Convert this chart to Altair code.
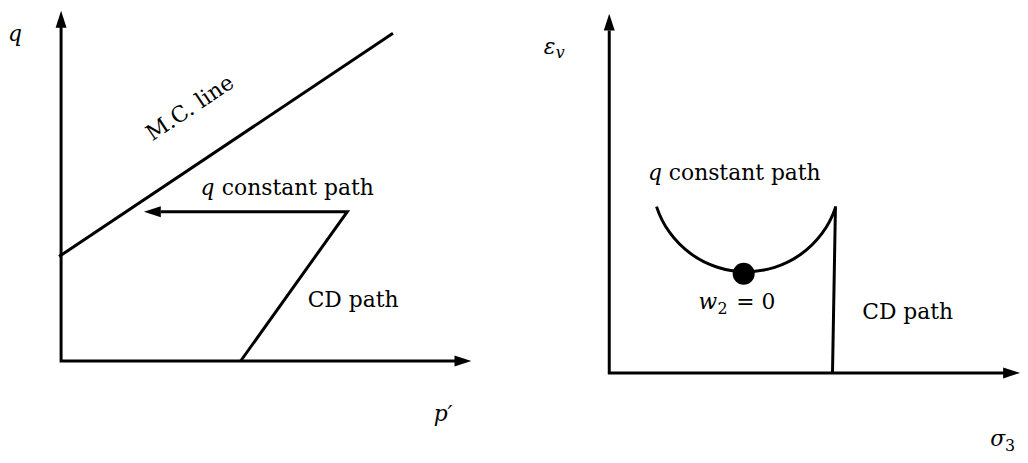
import altair as alt
import pandas as pd
import math

FONT = "DejaVu Serif"
FS = 22
SUB = 16
LW = 3

# ---------------- Left panel: q  vs  p' (local diagram units) ----------------
L_axes_x = [0, 0, 405]
L_axes_y = [345, 0, 0]
L_mc_x = [-2, 334.5]
L_mc_y = [105.3, 330.3]
L_path_x = [181, 288.5, 100.5]       # CD path then q-constant path
L_path_y = [0, 150.5, 150.5]
L_arrow_x = [0, 405, 92]
L_arrow_y = [344.5, 0, 150.5]
L_arrow_dir = ["up", "right", "left"]
L_roman = [("constant path", 162, 167), ("CD path", 248.5, 54)]
L_italic = [("q", 140.5, 167), ("q", -53.5, 323), ("p\u2032", 375.5, -60)]
L_mc_label = ("M.C. line", 130, 255)

# ---------------- Right panel: eps_v vs sigma_3 ----------------
R_axes_x = [0, 0, 405]
R_axes_y = [345, 0, 0]
# q-constant arc (circle): centre, radius, end angles (deg, clockwise from 12 o'clock)
R_arc_cx = [138]
R_arc_cy = [197]
R_arc_r = 95
R_arc_deg = [108.7, 252.0]
R_cd_x = [225, 228]
R_cd_y = [0, 168]
R_dot_x = [135.5]
R_dot_y = [100]
R_arrow_x = [0, 405.5]
R_arrow_y = [353.5, 0]
R_arrow_dir = ["up", "right"]
R_roman = [("constant path", 60, 194), ("CD path", 255, 54), ("= 0", 128, 64)]
R_italic = [("q", 39, 194), ("w", 90, 64), ("\u03b5", -66, 321), ("\u03c3", 384, -74)]
R_sub_roman = [("2", 109, 59), ("3", 399, -79)]
R_sub_italic = [("v", -54, 317)]

SHAPES = {
    "up": "M0,-1L0.65,1L-0.65,1Z",
    "right": "M1,0L-1,-0.65L-1,0.65Z",
    "left": "M-1,0L1,-0.65L1,0.65Z",
}

W, H = 510, 455


def enc(xd, yd):
    return dict(
        x=alt.X("x:Q", scale=alt.Scale(domain=xd, nice=False, zero=False), axis=None),
        y=alt.Y("y:Q", scale=alt.Scale(domain=yd, nice=False, zero=False), axis=None),
    )


def poly(xs, ys, xd, yd, **mk):
    df = pd.DataFrame({"x": xs, "y": ys, "i": list(range(len(xs)))})
    return alt.Chart(df).mark_line(color="black", strokeWidth=LW, strokeJoin="miter",
                                   strokeCap="butt", **mk).encode(
        order="i:Q", **enc(xd, yd))


def arrows(xs, ys, dirs, xd, yd):
    df = pd.DataFrame({"x": xs, "y": ys, "shape": [SHAPES[d] for d in dirs]})
    return alt.Chart(df).mark_point(filled=True, size=289, opacity=1, color="black",
                                    strokeWidth=0).encode(
        shape=alt.Shape("shape:N", scale=None), **enc(xd, yd))


def texts(items, xd, yd, size=FS, italic=False, **mk):
    df = pd.DataFrame({"t": [a[0] for a in items], "x": [a[1] for a in items],
                       "y": [a[2] for a in items]})
    kw = dict(font=FONT, fontSize=size, color="black", align="left", baseline="alphabetic")
    if italic:
        kw["fontStyle"] = "italic"
    kw.update(mk)
    return alt.Chart(df).mark_text(**kw).encode(text="t:N", **enc(xd, yd))


# Left panel
LXD, LYD = [-53.5, 456.5], [-101, 354]
left = alt.layer(
    poly(L_axes_x, L_axes_y, LXD, LYD),
    poly(L_mc_x, L_mc_y, LXD, LYD),
    poly(L_path_x, L_path_y, LXD, LYD),
    arrows(L_arrow_x, L_arrow_y, L_arrow_dir, LXD, LYD),
    texts(L_roman, LXD, LYD),
    texts(L_italic, LXD, LYD, italic=True),
    texts([L_mc_label], LXD, LYD, align="center", baseline="middle", angle=326.3),
).properties(width=W, height=H)

# Right panel
RXD, RYD = [-96, 414], [-89, 366]
arc = alt.Chart(pd.DataFrame({"x": R_arc_cx, "y": R_arc_cy})).mark_arc(
    color="black",
    radius=R_arc_r + LW / 2,
    radius2=R_arc_r - LW / 2,
    theta=math.radians(R_arc_deg[0]),
    theta2=math.radians(R_arc_deg[1]),
).encode(**enc(RXD, RYD))

right = alt.layer(
    poly(R_axes_x, R_axes_y, RXD, RYD),
    arc,
    poly(R_cd_x, R_cd_y, RXD, RYD),
    arrows(R_arrow_x, R_arrow_y, R_arrow_dir, RXD, RYD),
    alt.Chart(pd.DataFrame({"x": R_dot_x, "y": R_dot_y})).mark_circle(
        size=491, opacity=1, color="black").encode(**enc(RXD, RYD)),
    texts(R_roman, RXD, RYD),
    texts(R_italic, RXD, RYD, italic=True),
    texts(R_sub_roman, RXD, RYD, size=SUB),
    texts(R_sub_italic, RXD, RYD, size=SUB, italic=True),
).properties(width=W, height=H)

chart = alt.hconcat(left, right, spacing=0).properties(
    padding=0, bounds="flush"
).configure_view(stroke=None)

chart.save("out.html", embed_options={"renderer": "svg", "actions": False})
